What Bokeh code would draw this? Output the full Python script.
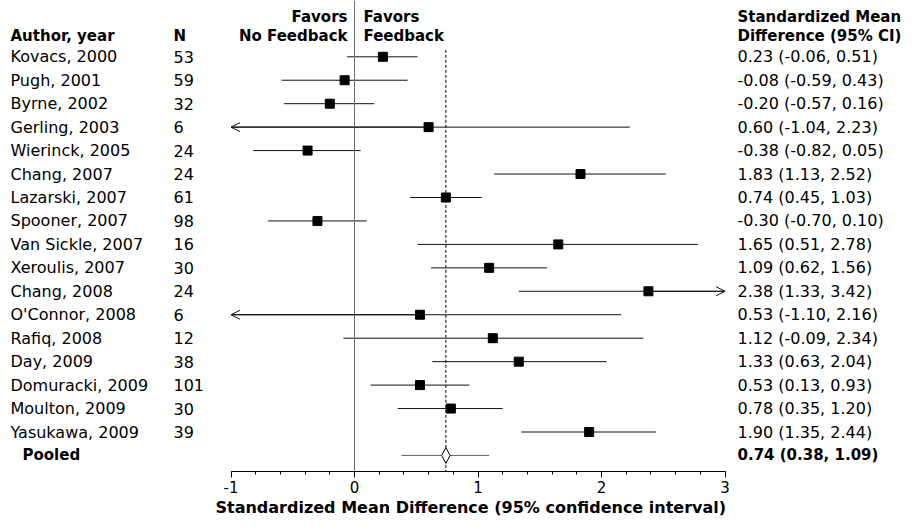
from bokeh.plotting import figure
from bokeh.models import Range1d, ColumnDataSource, Span, Arrow, OpenHead, SingleIntervalTicker, Title
from bokeh.core.properties import value
from bokeh.embed import file_html
from bokeh.resources import INLINE

# ---------------- data ----------------
authors = ["Kovacs, 2000", "Pugh, 2001", "Byrne, 2002", "Gerling, 2003", "Wierinck, 2005",
           "Chang, 2007", "Lazarski, 2007", "Spooner, 2007", "Van Sickle, 2007", "Xeroulis, 2007",
           "Chang, 2008", "O'Connor, 2008", "Rafiq, 2008", "Day, 2009", "Domuracki, 2009",
           "Moulton, 2009", "Yasukawa, 2009"]
n_sizes = [53, 59, 32, 6, 24, 24, 61, 98, 16, 30, 24, 6, 12, 38, 101, 30, 39]
smd = [0.23, -0.08, -0.20, 0.60, -0.38, 1.83, 0.74, -0.30, 1.65, 1.09,
       2.38, 0.53, 1.12, 1.33, 0.53, 0.78, 1.90]
ci_low = [-0.06, -0.59, -0.57, -1.04, -0.82, 1.13, 0.45, -0.70, 0.51, 0.62,
          1.33, -1.10, -0.09, 0.63, 0.13, 0.35, 1.35]
ci_high = [0.51, 0.43, 0.16, 2.23, 0.05, 2.52, 1.03, 0.10, 2.78, 1.56,
           3.42, 2.16, 2.34, 2.04, 0.93, 1.20, 2.44]
pooled_label = "Pooled"
pooled_smd = 0.74
pooled_low = 0.38
pooled_high = 1.09
axis_min, axis_max = -1, 3
tick_values = [-1, 0, 1, 2, 3]
tick_labels = ["-1", "0", "1", "2", "3"]
x_title = "Standardized Mean Difference (95% confidence interval)"

# ---------------- layout constants ----------------
W, H = 908, 516
PX_PER_UNIT = 123.5
ZERO_PX = 354.0            # figure-x of value 0
ROW0_PX, ROW_STEP = 57.0, 23.75
AXIS_PX = 477.0
TITLE_LEFT_PX = 215
FONT = value("DejaVu Sans")
FS = "16px"        # body text
FS_B = "15px"      # bold headers

def px_to_x(px):
    return (px - ZERO_PX) / PX_PER_UNIT

def py_to_row(py):
    return (py - ROW0_PX) / ROW_STEP

X_AUTHOR = px_to_x(10)
X_N = px_to_x(173)
X_RIGHT = px_to_x(737)
X_POOLED = px_to_x(22)
HDR1, HDR2 = py_to_row(17), py_to_row(36)

rows = list(range(len(authors)))
pooled_row = len(authors)

lo_c = [max(v, axis_min) for v in ci_low]
hi_c = [min(v, axis_max) for v in ci_high]
labels = [f"{m:.2f} ({l:.2f}, {h:.2f})" for m, l, h in zip(smd, ci_low, ci_high)]

src = ColumnDataSource(dict(row=rows, author=authors, n=[str(v) for v in n_sizes],
                            smd=smd, lo=lo_c, hi=hi_c, label=labels))

row_top = py_to_row(0)
row_bottom = py_to_row(AXIS_PX)
p = figure(width=W, height=H, output_backend="svg", toolbar_location=None,
           x_range=Range1d(px_to_x(0), px_to_x(W)),
           y_range=Range1d(row_bottom, row_top),
           y_axis_location=None,
           min_border_left=0, min_border_right=0, min_border_top=0,
           min_border_bottom=int(H - AXIS_PX))
p.outline_line_color = None
p.xgrid.visible = False
p.ygrid.visible = False
p.background_fill_color = "white"
p.border_fill_color = "white"

# reference lines
p.add_layout(Span(location=0, dimension="height", line_color="#707070", line_width=1))
p.segment(x0=[pooled_smd], y0=[py_to_row(50)], x1=[pooled_smd], y1=[row_bottom],
          line_color="black", line_width=1, line_dash="3 2")

# CI lines and points
p.segment(x0="lo", y0="row", x1="hi", y1="row", source=src, line_color="#111111", line_width=1)
p.scatter(x="smd", y="row", source=src, marker="square", size=9,
          fill_color="black", line_color="black")

# arrows for truncated intervals
left_idx = [i for i, v in enumerate(ci_low) if v < axis_min]
right_idx = [i for i, v in enumerate(ci_high) if v > axis_max]
la = ColumnDataSource(dict(xs=[smd[i] for i in left_idx], xe=[axis_min for i in left_idx],
                           y=[rows[i] for i in left_idx]))
ra = ColumnDataSource(dict(xs=[smd[i] for i in right_idx], xe=[axis_max for i in right_idx],
                           y=[rows[i] for i in right_idx]))
for s in (la, ra):
    p.add_layout(Arrow(end=OpenHead(size=9, line_width=1, line_color="#111111"),
                       x_start="xs", y_start="y", x_end="xe", y_end="y",
                       line_color="#111111", line_width=1, source=s))

# pooled
p.segment(x0=[pooled_low], y0=[pooled_row], x1=[pooled_high], y1=[pooled_row],
          line_color="#666666", line_width=1)
dx = 4.2 / PX_PER_UNIT
dy = 8.0 / ROW_STEP
p.patch(x=[pooled_smd - dx, pooled_smd, pooled_smd + dx, pooled_smd],
        y=[pooled_row, pooled_row - dy, pooled_row, pooled_row + dy],
        fill_color="white", line_color="black", line_width=1)

# text columns
tkw = dict(text_font=FONT, text_font_size=FS, text_baseline="middle", text_color="black")
p.text(x=X_AUTHOR, y="row", text="author", source=src, **tkw)
p.text(x=X_N, y="row", text="n", source=src, **tkw)
p.text(x=X_RIGHT, y="row", text="label", source=src, **tkw)

bkw = dict(tkw, text_font_style="bold", text_font_size=FS_B)
p.text(x=[X_POOLED], y=[pooled_row], text=[pooled_label], **bkw)
p.text(x=[X_RIGHT], y=[pooled_row],
       text=[f"{pooled_smd:.2f} ({pooled_low:.2f}, {pooled_high:.2f})"], **bkw)

# headers
p.text(x=[X_AUTHOR, X_N], y=[HDR2, HDR2], text=["Author, year", "N"], **bkw)
p.text(x=[X_RIGHT, X_RIGHT], y=[HDR1, HDR2], text=["Standardized Mean", "Difference (95% CI)"], **bkw)
p.text(x=[0, 0], y=[HDR1, HDR2], text=["Favors", "No Feedback"], x_offset=-7, text_align="right", **bkw)
p.text(x=[0, 0], y=[HDR1, HDR2], text=["Favors", "Feedback"], x_offset=9, text_align="left", **bkw)

# x axis
ax = p.xaxis[0]
ax.bounds = (axis_min, axis_max)
ax.ticker = SingleIntervalTicker(interval=1, num_minor_ticks=5)
ax.major_label_overrides = dict(zip(tick_values, tick_labels))
ax.axis_line_color = "black"
ax.major_tick_in = 0
ax.major_tick_out = 6
ax.minor_tick_in = 0
ax.minor_tick_out = 3
ax.major_tick_line_color = "black"
ax.minor_tick_line_color = "black"
ax.major_label_text_font = "DejaVu Sans"
ax.major_label_text_font_size = "15px"
ax.major_label_text_color = "black"
ax.major_label_standoff = 3

# axis title as a bottom title so it can be placed horizontally
p.add_layout(Title(text=x_title, align="left", offset=TITLE_LEFT_PX, standoff=0,
                   text_font="DejaVu Sans", text_font_size="16px", text_font_style="bold",
                   text_color="black"), "below")

open("out.html", "w").write(file_html(p, INLINE))
